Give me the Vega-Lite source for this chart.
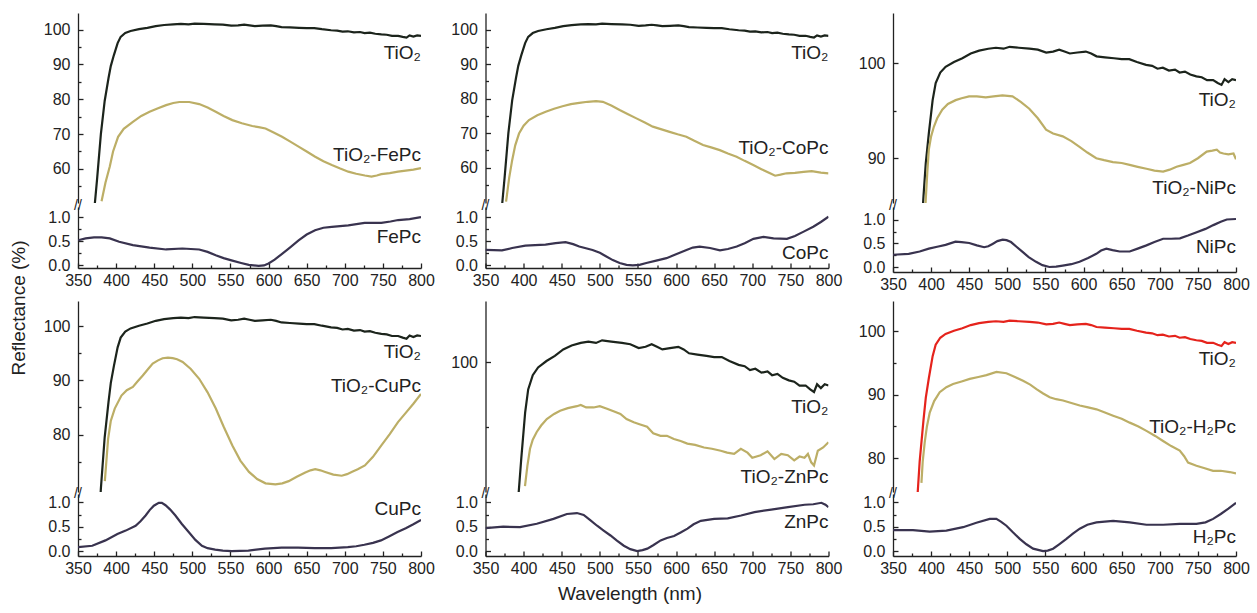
{
"$schema": "https://vega.github.io/schema/vega-lite/v6.json",
"padding": {"left": 10, "top": 13, "right": 5, "bottom": 5},
"autosize": {"type": "pad"},
"title": {"text": "Reflectance (%)", "orient": "left", "anchor": "middle", "frame": "bounds", "offset": 14, "fontSize": 19, "fontWeight": "normal", "font": "Liberation Sans", "color": "#222"},
"datasets": {
"tio2": [{"wl":370,"r":45},{"wl":375,"r":57},{"wl":380,"r":70},{"wl":385,"r":79.5},{"wl":390,"r":86},{"wl":393,"r":89.5},{"wl":397,"r":92.6},{"wl":402,"r":96.1},{"wl":406,"r":97.9},{"wl":412,"r":99},{"wl":419,"r":99.6},{"wl":430,"r":100.1},{"wl":441,"r":100.5},{"wl":452,"r":101},{"wl":463,"r":101.3},{"wl":475,"r":101.5},{"wl":485,"r":101.6},{"wl":495,"r":101.5},{"wl":503,"r":101.7},{"wl":515,"r":101.6},{"wl":529,"r":101.5},{"wl":540,"r":101.4},{"wl":551,"r":101.1},{"wl":560,"r":101.2},{"wl":568,"r":101.4},{"wl":575,"r":101.2},{"wl":582,"r":101},{"wl":592,"r":101.1},{"wl":603,"r":101.2},{"wl":610,"r":101},{"wl":617,"r":100.7},{"wl":628,"r":100.6},{"wl":640,"r":100.5},{"wl":650,"r":100.4},{"wl":660,"r":100.4},{"wl":670,"r":100.1},{"wl":682,"r":99.8},{"wl":690,"r":99.7},{"wl":697,"r":99.4},{"wl":704,"r":99.5},{"wl":712,"r":99.2},{"wl":720,"r":99.3},{"wl":726,"r":99},{"wl":733,"r":99.1},{"wl":740,"r":98.8},{"wl":748,"r":98.6},{"wl":755,"r":98.5},{"wl":762,"r":98.2},{"wl":770,"r":98.2},{"wl":776,"r":97.9},{"wl":781,"r":97.7},{"wl":785,"r":98.3},{"wl":790,"r":98},{"wl":795,"r":98.3},{"wl":800,"r":98.2}],
"fe_c": [{"wl":380.9,"r":50.7},{"wl":386,"r":56},{"wl":391.7,"r":60.7},{"wl":396,"r":65},{"wl":402.6,"r":69.2},{"wl":410,"r":71.5},{"wl":422,"r":73.5},{"wl":433,"r":75.2},{"wl":443.9,"r":76.4},{"wl":455,"r":77.4},{"wl":465.6,"r":78.3},{"wl":475,"r":78.9},{"wl":483,"r":79.2},{"wl":496,"r":79.2},{"wl":509,"r":78.6},{"wl":520,"r":77.6},{"wl":530.7,"r":76.4},{"wl":541,"r":75.2},{"wl":552.5,"r":74},{"wl":565,"r":73.1},{"wl":578.6,"r":72.3},{"wl":587,"r":72},{"wl":596,"r":71.6},{"wl":606,"r":70.5},{"wl":617.7,"r":69.2},{"wl":628,"r":67.9},{"wl":639.4,"r":66.4},{"wl":650,"r":65},{"wl":661.2,"r":63.5},{"wl":672,"r":62.2},{"wl":683,"r":61.1},{"wl":694,"r":60.1},{"wl":704.6,"r":59.2},{"wl":715,"r":58.6},{"wl":726.4,"r":58.1},{"wl":735,"r":57.8},{"wl":742,"r":58.1},{"wl":748,"r":58.5},{"wl":759,"r":58.8},{"wl":769.8,"r":59.2},{"wl":780,"r":59.5},{"wl":790,"r":59.8},{"wl":800,"r":60.2}],
"fepc": [{"wl":350,"r":0.52},{"wl":360,"r":0.56},{"wl":371,"r":0.58},{"wl":381,"r":0.58},{"wl":391.7,"r":0.56},{"wl":404,"r":0.49},{"wl":422,"r":0.42},{"wl":443.9,"r":0.37},{"wl":465.6,"r":0.33},{"wl":487,"r":0.35},{"wl":509,"r":0.33},{"wl":520,"r":0.28},{"wl":530.7,"r":0.21},{"wl":541,"r":0.15},{"wl":552.5,"r":0.1},{"wl":564,"r":0.05},{"wl":574,"r":0.01},{"wl":587,"r":-0.01},{"wl":594,"r":0},{"wl":600,"r":0.04},{"wl":608,"r":0.12},{"wl":617.7,"r":0.24},{"wl":628,"r":0.37},{"wl":639.4,"r":0.52},{"wl":650,"r":0.64},{"wl":661,"r":0.73},{"wl":672,"r":0.78},{"wl":683,"r":0.8},{"wl":704.6,"r":0.83},{"wl":726,"r":0.88},{"wl":748,"r":0.88},{"wl":760,"r":0.91},{"wl":770,"r":0.94},{"wl":785,"r":0.96},{"wl":800,"r":1}],
"co_c": [{"wl":377,"r":50.2},{"wl":381,"r":57},{"wl":385,"r":62.2},{"wl":389,"r":66.5},{"wl":394,"r":69.9},{"wl":400,"r":72.2},{"wl":407,"r":73.8},{"wl":418,"r":75.2},{"wl":429,"r":76.2},{"wl":440,"r":77.1},{"wl":451,"r":77.8},{"wl":462,"r":78.4},{"wl":473,"r":78.8},{"wl":484,"r":79.1},{"wl":495,"r":79.3},{"wl":504,"r":79.1},{"wl":515,"r":78},{"wl":526,"r":76.7},{"wl":537,"r":75.5},{"wl":548,"r":74.3},{"wl":559,"r":73.1},{"wl":569.5,"r":71.9},{"wl":580,"r":71.2},{"wl":591.5,"r":70.4},{"wl":602,"r":69.7},{"wl":613.5,"r":69},{"wl":624,"r":67.8},{"wl":635.4,"r":66.6},{"wl":646,"r":65.9},{"wl":657.4,"r":65.1},{"wl":668,"r":64.1},{"wl":679.4,"r":63.2},{"wl":690,"r":62},{"wl":701.3,"r":60.8},{"wl":712,"r":59.6},{"wl":723.3,"r":58.4},{"wl":730,"r":57.7},{"wl":737,"r":58},{"wl":745,"r":58.4},{"wl":756,"r":58.5},{"wl":767.3,"r":58.8},{"wl":778,"r":59},{"wl":790,"r":58.6},{"wl":800,"r":58.4}],
"copc": [{"wl":350,"r":0.32},{"wl":371.6,"r":0.31},{"wl":385,"r":0.36},{"wl":402.3,"r":0.41},{"wl":415,"r":0.42},{"wl":428.7,"r":0.43},{"wl":442,"r":0.46},{"wl":455,"r":0.48},{"wl":465,"r":0.44},{"wl":473,"r":0.39},{"wl":490.4,"r":0.32},{"wl":500,"r":0.26},{"wl":508,"r":0.19},{"wl":517,"r":0.11},{"wl":526,"r":0.05},{"wl":535,"r":0.01},{"wl":543.3,"r":0},{"wl":552,"r":0.01},{"wl":561,"r":0.05},{"wl":574,"r":0.1},{"wl":587.4,"r":0.15},{"wl":600,"r":0.23},{"wl":613.7,"r":0.32},{"wl":622,"r":0.37},{"wl":631,"r":0.39},{"wl":644.6,"r":0.36},{"wl":657.6,"r":0.31},{"wl":668,"r":0.34},{"wl":679.6,"r":0.39},{"wl":690,"r":0.46},{"wl":701.5,"r":0.55},{"wl":714.7,"r":0.59},{"wl":727.9,"r":0.56},{"wl":745.5,"r":0.55},{"wl":756,"r":0.61},{"wl":767.4,"r":0.7},{"wl":780,"r":0.8},{"wl":790,"r":0.9},{"wl":800,"r":1.01}],
"ni_c": [{"wl":392.7,"r":85.3},{"wl":395,"r":88.5},{"wl":397,"r":90.9},{"wl":400,"r":92.3},{"wl":403.6,"r":93.3},{"wl":408,"r":94.2},{"wl":414.6,"r":95.1},{"wl":422,"r":95.7},{"wl":432.2,"r":96.1},{"wl":440,"r":96.3},{"wl":449.8,"r":96.5},{"wl":460,"r":96.5},{"wl":471.7,"r":96.4},{"wl":482,"r":96.5},{"wl":493.6,"r":96.6},{"wl":506.8,"r":96.5},{"wl":518,"r":95.9},{"wl":528.8,"r":95.2},{"wl":540,"r":94.2},{"wl":550.8,"r":93},{"wl":560,"r":92.6},{"wl":572.7,"r":92.3},{"wl":584,"r":91.8},{"wl":594.7,"r":91.2},{"wl":605,"r":90.6},{"wl":616.7,"r":90},{"wl":627,"r":89.8},{"wl":638.5,"r":89.6},{"wl":650,"r":89.5},{"wl":660.5,"r":89.3},{"wl":671,"r":89.1},{"wl":682.5,"r":88.9},{"wl":693,"r":88.7},{"wl":704.4,"r":88.6},{"wl":713,"r":88.8},{"wl":722,"r":89.1},{"wl":731,"r":89.3},{"wl":739.6,"r":89.5},{"wl":750,"r":90},{"wl":761.6,"r":90.7},{"wl":769,"r":90.8},{"wl":774.8,"r":90.9},{"wl":779,"r":90.6},{"wl":783.5,"r":90.5},{"wl":790,"r":90.4},{"wl":796.7,"r":90.5},{"wl":800,"r":89.9}],
"nipc": [{"wl":350,"r":0.26},{"wl":370.6,"r":0.28},{"wl":385,"r":0.33},{"wl":397,"r":0.39},{"wl":408,"r":0.43},{"wl":419,"r":0.47},{"wl":432,"r":0.54},{"wl":440,"r":0.53},{"wl":450,"r":0.51},{"wl":460,"r":0.46},{"wl":469.6,"r":0.42},{"wl":475,"r":0.44},{"wl":480.6,"r":0.49},{"wl":487,"r":0.55},{"wl":493.8,"r":0.58},{"wl":499,"r":0.57},{"wl":504.8,"r":0.53},{"wl":512,"r":0.43},{"wl":520,"r":0.32},{"wl":528,"r":0.21},{"wl":537.7,"r":0.11},{"wl":546,"r":0.04},{"wl":555.2,"r":0},{"wl":564,"r":0.01},{"wl":572.7,"r":0.03},{"wl":584,"r":0.06},{"wl":594.7,"r":0.11},{"wl":606,"r":0.19},{"wl":616.7,"r":0.28},{"wl":623,"r":0.35},{"wl":629.9,"r":0.39},{"wl":638,"r":0.36},{"wl":647.4,"r":0.33},{"wl":660.5,"r":0.33},{"wl":671,"r":0.39},{"wl":682.5,"r":0.46},{"wl":693,"r":0.53},{"wl":704.4,"r":0.6},{"wl":715,"r":0.6},{"wl":726.4,"r":0.61},{"wl":737,"r":0.67},{"wl":748.4,"r":0.74},{"wl":760,"r":0.81},{"wl":770.3,"r":0.89},{"wl":780,"r":0.96},{"wl":787.9,"r":1.01},{"wl":800,"r":1.02}],
"cu_c": [{"wl":385.2,"r":71.4},{"wl":389.5,"r":79.2},{"wl":393,"r":82.5},{"wl":398.2,"r":84.8},{"wl":407,"r":87.2},{"wl":414,"r":88.2},{"wl":422,"r":88.8},{"wl":428,"r":89.8},{"wl":435,"r":90.9},{"wl":442,"r":92.1},{"wl":448,"r":93.1},{"wl":455,"r":93.7},{"wl":461,"r":94.1},{"wl":468,"r":94.2},{"wl":474.3,"r":94.1},{"wl":480,"r":93.9},{"wl":487.3,"r":93.4},{"wl":498,"r":92.1},{"wl":509,"r":90.3},{"wl":520,"r":87.8},{"wl":530.8,"r":84.8},{"wl":541,"r":81.5},{"wl":552.5,"r":78},{"wl":563,"r":75.2},{"wl":574.3,"r":73.1},{"wl":585,"r":71.8},{"wl":596,"r":71},{"wl":609,"r":70.8},{"wl":618,"r":71},{"wl":626.4,"r":71.4},{"wl":637,"r":72.2},{"wl":648.2,"r":73},{"wl":655,"r":73.4},{"wl":661.2,"r":73.6},{"wl":668,"r":73.4},{"wl":674.3,"r":73.1},{"wl":685,"r":72.6},{"wl":696,"r":72.4},{"wl":703,"r":72.7},{"wl":709,"r":73.1},{"wl":717,"r":73.6},{"wl":726.4,"r":74.3},{"wl":737,"r":75.9},{"wl":748,"r":78},{"wl":759,"r":80.1},{"wl":769.8,"r":82.3},{"wl":780,"r":84},{"wl":790,"r":85.7},{"wl":800,"r":87.5}],
"cupc": [{"wl":350,"r":0.08},{"wl":368.7,"r":0.11},{"wl":386,"r":0.22},{"wl":401.7,"r":0.35},{"wl":412.6,"r":0.42},{"wl":425.6,"r":0.52},{"wl":432,"r":0.61},{"wl":438.7,"r":0.73},{"wl":444,"r":0.84},{"wl":449.5,"r":0.93},{"wl":456,"r":0.99},{"wl":460,"r":0.99},{"wl":464.8,"r":0.94},{"wl":471,"r":0.85},{"wl":477.8,"r":0.73},{"wl":486,"r":0.56},{"wl":495.2,"r":0.39},{"wl":504,"r":0.23},{"wl":512.6,"r":0.11},{"wl":520,"r":0.06},{"wl":530,"r":0.03},{"wl":540,"r":0.01},{"wl":551.7,"r":0},{"wl":573.5,"r":0.01},{"wl":595.2,"r":0.05},{"wl":617,"r":0.07},{"wl":638.7,"r":0.07},{"wl":660.5,"r":0.06},{"wl":682.2,"r":0.06},{"wl":704,"r":0.08},{"wl":715,"r":0.1},{"wl":725.7,"r":0.13},{"wl":737,"r":0.17},{"wl":747.5,"r":0.22},{"wl":758,"r":0.3},{"wl":769.2,"r":0.39},{"wl":780,"r":0.47},{"wl":790,"r":0.55},{"wl":800,"r":0.64}],
"zn_c": [{"wl":401.8,"r":90.4},{"wl":405,"r":92},{"wl":408.4,"r":93.3},{"wl":412,"r":94},{"wl":417.2,"r":94.6},{"wl":423,"r":95.1},{"wl":430.4,"r":95.6},{"wl":440,"r":96},{"wl":447.9,"r":96.25},{"wl":458,"r":96.45},{"wl":469.9,"r":96.6},{"wl":475,"r":96.7},{"wl":482,"r":96.5},{"wl":491.8,"r":96.5},{"wl":500,"r":96.6},{"wl":509.4,"r":96.4},{"wl":518,"r":96.2},{"wl":527,"r":96},{"wl":535,"r":95.6},{"wl":544.5,"r":95.35},{"wl":552,"r":95.2},{"wl":562,"r":95},{"wl":570,"r":94.5},{"wl":579.6,"r":94.3},{"wl":588,"r":94.3},{"wl":597.2,"r":94.05},{"wl":606,"r":93.9},{"wl":614.8,"r":93.7},{"wl":625,"r":93.6},{"wl":636.7,"r":93.4},{"wl":647,"r":93.3},{"wl":658.6,"r":93.15},{"wl":667,"r":93},{"wl":676.2,"r":92.9},{"wl":685,"r":93.3},{"wl":693.7,"r":93},{"wl":700,"r":92.6},{"wl":711,"r":92.8},{"wl":720,"r":93.1},{"wl":729,"r":92.5},{"wl":738,"r":92.9},{"wl":746.6,"r":92.8},{"wl":755,"r":92.4},{"wl":762,"r":92.7},{"wl":768.5,"r":92.6},{"wl":773,"r":92.9},{"wl":777.3,"r":92.25},{"wl":781,"r":92},{"wl":786,"r":93.15},{"wl":793,"r":93.4},{"wl":800,"r":93.8}],
"znpc": [{"wl":350,"r":0.47},{"wl":373.3,"r":0.5},{"wl":395.3,"r":0.49},{"wl":417.3,"r":0.56},{"wl":439.2,"r":0.66},{"wl":456.8,"r":0.76},{"wl":470,"r":0.78},{"wl":478.8,"r":0.74},{"wl":487,"r":0.64},{"wl":496.4,"r":0.52},{"wl":505,"r":0.42},{"wl":514,"r":0.32},{"wl":522,"r":0.22},{"wl":531.5,"r":0.11},{"wl":540,"r":0.04},{"wl":549,"r":0},{"wl":556,"r":0.02},{"wl":562.3,"r":0.05},{"wl":570,"r":0.12},{"wl":579.8,"r":0.22},{"wl":588,"r":0.27},{"wl":597.4,"r":0.31},{"wl":606,"r":0.38},{"wl":615,"r":0.46},{"wl":623,"r":0.55},{"wl":632.5,"r":0.62},{"wl":650,"r":0.66},{"wl":667.8,"r":0.67},{"wl":685.3,"r":0.73},{"wl":702.9,"r":0.8},{"wl":724.8,"r":0.85},{"wl":746.8,"r":0.9},{"wl":768.7,"r":0.95},{"wl":780,"r":0.96},{"wl":790.7,"r":0.99},{"wl":796,"r":0.95},{"wl":800,"r":0.9}],
"h2_c": [{"wl":387.3,"r":76.1},{"wl":389,"r":79.5},{"wl":391.6,"r":82.5},{"wl":394.5,"r":85},{"wl":398.2,"r":87.2},{"wl":404,"r":89},{"wl":411.3,"r":90.4},{"wl":420,"r":91.2},{"wl":428.8,"r":91.7},{"wl":440,"r":92.1},{"wl":450.7,"r":92.5},{"wl":462,"r":92.8},{"wl":472.6,"r":93.1},{"wl":485.7,"r":93.6},{"wl":498.8,"r":93.4},{"wl":510,"r":92.8},{"wl":520.6,"r":92.2},{"wl":530,"r":91.6},{"wl":538.2,"r":90.9},{"wl":547,"r":90.2},{"wl":555.6,"r":89.6},{"wl":564,"r":89.3},{"wl":573.1,"r":89.1},{"wl":584,"r":88.7},{"wl":595,"r":88.3},{"wl":606,"r":88},{"wl":617,"r":87.7},{"wl":628,"r":87.2},{"wl":638.8,"r":86.7},{"wl":650,"r":86.2},{"wl":660.6,"r":85.6},{"wl":672,"r":85},{"wl":682.5,"r":84.3},{"wl":694,"r":83.5},{"wl":704.3,"r":82.7},{"wl":715,"r":81.9},{"wl":726.2,"r":81.2},{"wl":732,"r":80.3},{"wl":737.1,"r":79.3},{"wl":748.1,"r":78.8},{"wl":759,"r":78.4},{"wl":769.9,"r":78},{"wl":780,"r":78},{"wl":791.8,"r":77.8},{"wl":800,"r":77.6}],
"h2pc": [{"wl":350,"r":0.43},{"wl":376.2,"r":0.43},{"wl":398.1,"r":0.4},{"wl":420,"r":0.42},{"wl":441.9,"r":0.49},{"wl":459.4,"r":0.58},{"wl":476.9,"r":0.66},{"wl":485.6,"r":0.66},{"wl":492,"r":0.6},{"wl":498.8,"r":0.52},{"wl":507,"r":0.39},{"wl":516.3,"r":0.25},{"wl":525,"r":0.14},{"wl":533.8,"r":0.05},{"wl":546.9,"r":0},{"wl":553,"r":0.01},{"wl":560,"r":0.05},{"wl":568,"r":0.14},{"wl":577.5,"r":0.25},{"wl":586,"r":0.36},{"wl":595,"r":0.46},{"wl":605,"r":0.54},{"wl":616.9,"r":0.59},{"wl":638.8,"r":0.62},{"wl":660.6,"r":0.59},{"wl":682.5,"r":0.54},{"wl":704.4,"r":0.54},{"wl":726.3,"r":0.56},{"wl":748.1,"r":0.56},{"wl":760,"r":0.59},{"wl":770,"r":0.66},{"wl":780,"r":0.76},{"wl":790,"r":0.87},{"wl":800,"r":0.99}]
},
"vconcat": [
{
"columns": 3, "bounds": "flush", "spacing": {"row": 4, "column": 64.5},
"concat": [
{"width": 343, "height": 190,
 "encoding": {"x": {"field": "wl", "type": "quantitative", "title": null, "scale": {"domain": [350, 800], "nice": false, "zero": false}, "axis": null},
  "y": {"field": "r", "type": "quantitative", "title": null, "scale": {"domain": [50.2, 104.75], "nice": false, "zero": false}, "axis": {"values": [55,60,65,70,75,80,85,90,95,100], "labelExpr": "datum.value % 10 === 0 ? datum.label : ''", "tickSize": {"condition": {"test": "datum.value % 10 === 0", "value": -5}, "value": -3}, "labelPadding": 13}}},
 "layer": [
  {"data": {"name": "tio2"}, "mark": {"type": "line", "clip": true, "color": "#1c241c"}},
  {"data": {"name": "fe_c"}, "mark": {"type": "line", "clip": true, "color": "#bcae66"}},
  {"data": {"values": [{"wl": 800, "r": 93.3, "t": "TiO₂"}, {"wl": 800, "r": 64.0, "t": "TiO₂-FePc"}]}, "mark": {"type": "text", "align": "right", "baseline": "middle"}, "encoding": {"text": {"field": "t"}}},
  {"data": {"values": [{"wl": 350, "r": 50.2, "t": "//"}]}, "mark": {"type": "text", "align": "center", "baseline": "middle", "fontSize": 14, "dy": 3}, "encoding": {"text": {"field": "t"}}}
 ]},
{"width": 343, "height": 190,
 "encoding": {"x": {"field": "wl", "type": "quantitative", "title": null, "scale": {"domain": [350, 800], "nice": false, "zero": false}, "axis": null},
  "y": {"field": "r", "type": "quantitative", "title": null, "scale": {"domain": [49.8, 104.8], "nice": false, "zero": false}, "axis": {"values": [55,60,65,70,75,80,85,90,95,100], "labelExpr": "datum.value % 10 === 0 ? datum.label : ''", "tickSize": {"condition": {"test": "datum.value % 10 === 0", "value": -5}, "value": -3}, "labelPadding": 13}}},
 "layer": [
  {"data": {"name": "tio2"}, "mark": {"type": "line", "clip": true, "color": "#1c241c"}},
  {"data": {"name": "co_c"}, "mark": {"type": "line", "clip": true, "color": "#bcae66"}},
  {"data": {"values": [{"wl": 800, "r": 93.1, "t": "TiO₂"}, {"wl": 800, "r": 65.6, "t": "TiO₂-CoPc"}]}, "mark": {"type": "text", "align": "right", "baseline": "middle"}, "encoding": {"text": {"field": "t"}}},
  {"data": {"values": [{"wl": 350, "r": 49.8, "t": "//"}]}, "mark": {"type": "text", "align": "center", "baseline": "middle", "fontSize": 14, "dy": 3}, "encoding": {"text": {"field": "t"}}}
 ]},
{"width": 343, "height": 190,
 "encoding": {"x": {"field": "wl", "type": "quantitative", "title": null, "scale": {"domain": [350, 800], "nice": false, "zero": false}, "axis": null},
  "y": {"field": "r", "type": "quantitative", "title": null, "scale": {"domain": [85.3, 105.25], "nice": false, "zero": false}, "axis": {"values": [90,95,100], "labelExpr": "datum.value % 10 === 0 ? datum.label : ''", "tickSize": {"condition": {"test": "datum.value % 10 === 0", "value": -5}, "value": -3}, "labelPadding": 13}}},
 "layer": [
  {"data": {"name": "tio2"}, "mark": {"type": "line", "clip": true, "color": "#1c241c"}},
  {"data": {"name": "ni_c"}, "mark": {"type": "line", "clip": true, "color": "#bcae66"}},
  {"data": {"values": [{"wl": 800, "r": 96.1, "t": "TiO₂"}, {"wl": 800, "r": 86.85, "t": "TiO₂-NiPc"}]}, "mark": {"type": "text", "align": "right", "baseline": "middle"}, "encoding": {"text": {"field": "t"}}},
  {"data": {"values": [{"wl": 350, "r": 85.3, "t": "//"}]}, "mark": {"type": "text", "align": "center", "baseline": "middle", "fontSize": 14, "dy": 3}, "encoding": {"text": {"field": "t"}}}
 ]},
{"width": 343, "height": 61,
 "encoding": {"x": {"field": "wl", "type": "quantitative", "title": null, "scale": {"domain": [350, 800], "nice": false, "zero": false}, "axis": {"values": [350,375,400,425,450,475,500,525,550,575,600,625,650,675,700,725,750,775,800], "labelExpr": "datum.value % 50 === 0 ? datum.label : ''", "tickSize": {"condition": {"test": "datum.value % 50 === 0", "value": -5}, "value": -3}, "labelPadding": 9}},
  "y": {"field": "r", "type": "quantitative", "title": null, "scale": {"domain": [-0.054, 1.21], "nice": false, "zero": false}, "axis": {"values": [0,0.25,0.5,0.75,1], "format": ".1f", "labelExpr": "datum.value % 0.5 === 0 ? datum.label : ''", "tickSize": {"condition": {"test": "datum.value % 0.5 === 0", "value": -5}, "value": -3}, "labelPadding": 13}}},
 "layer": [
  {"data": {"name": "fepc"}, "mark": {"type": "line", "clip": true, "color": "#39334f"}},
  {"data": {"values": [{"wl": 800, "r": 0.59, "t": "FePc"}]}, "mark": {"type": "text", "align": "right", "baseline": "middle"}, "encoding": {"text": {"field": "t"}}}
 ]},
{"width": 343, "height": 61,
 "encoding": {"x": {"field": "wl", "type": "quantitative", "title": null, "scale": {"domain": [350, 800], "nice": false, "zero": false}, "axis": {"values": [350,375,400,425,450,475,500,525,550,575,600,625,650,675,700,725,750,775,800], "labelExpr": "datum.value % 50 === 0 ? datum.label : ''", "tickSize": {"condition": {"test": "datum.value % 50 === 0", "value": -5}, "value": -3}, "labelPadding": 9}},
  "y": {"field": "r", "type": "quantitative", "title": null, "scale": {"domain": [-0.054, 1.21], "nice": false, "zero": false}, "axis": {"values": [0,0.25,0.5,0.75,1], "format": ".1f", "labelExpr": "datum.value % 0.5 === 0 ? datum.label : ''", "tickSize": {"condition": {"test": "datum.value % 0.5 === 0", "value": -5}, "value": -3}, "labelPadding": 13}}},
 "layer": [
  {"data": {"name": "copc"}, "mark": {"type": "line", "clip": true, "color": "#39334f"}},
  {"data": {"values": [{"wl": 800, "r": 0.26, "t": "CoPc"}]}, "mark": {"type": "text", "align": "right", "baseline": "middle"}, "encoding": {"text": {"field": "t"}}}
 ]},
{"width": 343, "height": 65,
 "encoding": {"x": {"field": "wl", "type": "quantitative", "title": null, "scale": {"domain": [350, 800], "nice": false, "zero": false}, "axis": {"values": [350,375,400,425,450,475,500,525,550,575,600,625,650,675,700,725,750,775,800], "labelExpr": "datum.value % 50 === 0 ? datum.label : ''", "tickSize": {"condition": {"test": "datum.value % 50 === 0", "value": -5}, "value": -3}, "labelPadding": 9}},
  "y": {"field": "r", "type": "quantitative", "title": null, "scale": {"domain": [-0.106, 1.275], "nice": false, "zero": false}, "axis": {"values": [0,0.25,0.5,0.75,1], "format": ".1f", "labelExpr": "datum.value % 0.5 === 0 ? datum.label : ''", "tickSize": {"condition": {"test": "datum.value % 0.5 === 0", "value": -5}, "value": -3}, "labelPadding": 13}}},
 "layer": [
  {"data": {"name": "nipc"}, "mark": {"type": "line", "clip": true, "color": "#39334f"}},
  {"data": {"values": [{"wl": 800, "r": 0.42, "t": "NiPc"}]}, "mark": {"type": "text", "align": "right", "baseline": "middle"}, "encoding": {"text": {"field": "t"}}}
 ]}
]
},
{
"columns": 3, "bounds": "flush", "spacing": {"row": 2, "column": 64.5},
"concat": [
{"width": 343, "height": 191,
 "encoding": {"x": {"field": "wl", "type": "quantitative", "title": null, "scale": {"domain": [350, 800], "nice": false, "zero": false}, "axis": null},
  "y": {"field": "r", "type": "quantitative", "title": null, "scale": {"domain": [69.4, 104.66], "nice": false, "zero": false}, "axis": {"values": [75,80,85,90,95,100], "labelExpr": "datum.value % 10 === 0 ? datum.label : ''", "tickSize": {"condition": {"test": "datum.value % 10 === 0", "value": -5}, "value": -3}, "labelPadding": 13}}},
 "layer": [
  {"data": {"name": "tio2"}, "mark": {"type": "line", "clip": true, "color": "#1c241c"}},
  {"data": {"name": "cu_c"}, "mark": {"type": "line", "clip": true, "color": "#bcae66"}},
  {"data": {"values": [{"wl": 800, "r": 95.2, "t": "TiO₂"}, {"wl": 800, "r": 88.95, "t": "TiO₂-CuPc"}]}, "mark": {"type": "text", "align": "right", "baseline": "middle"}, "encoding": {"text": {"field": "t"}}},
  {"data": {"values": [{"wl": 350, "r": 69.4, "t": "//"}]}, "mark": {"type": "text", "align": "center", "baseline": "middle", "fontSize": 14, "dy": 2}, "encoding": {"text": {"field": "t"}}}
 ]},
{"width": 343, "height": 191,
 "encoding": {"x": {"field": "wl", "type": "quantitative", "title": null, "scale": {"domain": [350, 800], "nice": false, "zero": false}, "axis": null},
  "y": {"field": "r", "type": "quantitative", "title": null, "scale": {"domain": [89.95, 104.75], "nice": false, "zero": false}, "axis": {"values": [95,100], "labelExpr": "datum.value % 10 === 0 ? datum.label : ''", "tickSize": {"condition": {"test": "datum.value % 10 === 0", "value": -5}, "value": -3}, "labelPadding": 13}}},
 "layer": [
  {"data": {"name": "tio2"}, "mark": {"type": "line", "clip": true, "color": "#1c241c"}},
  {"data": {"name": "zn_c"}, "mark": {"type": "line", "clip": true, "color": "#bcae66"}},
  {"data": {"values": [{"wl": 800, "r": 96.5, "t": "TiO₂"}, {"wl": 800, "r": 91.1, "t": "TiO₂-ZnPc"}]}, "mark": {"type": "text", "align": "right", "baseline": "middle"}, "encoding": {"text": {"field": "t"}}},
  {"data": {"values": [{"wl": 350, "r": 89.95, "t": "//"}]}, "mark": {"type": "text", "align": "center", "baseline": "middle", "fontSize": 14, "dy": 2}, "encoding": {"text": {"field": "t"}}}
 ]},
{"width": 343, "height": 191,
 "encoding": {"x": {"field": "wl", "type": "quantitative", "title": null, "scale": {"domain": [350, 800], "nice": false, "zero": false}, "axis": null},
  "y": {"field": "r", "type": "quantitative", "title": null, "scale": {"domain": [74.65, 104.8], "nice": false, "zero": false}, "axis": {"values": [80,85,90,95,100], "labelExpr": "datum.value % 10 === 0 ? datum.label : ''", "tickSize": {"condition": {"test": "datum.value % 10 === 0", "value": -5}, "value": -3}, "labelPadding": 13}}},
 "layer": [
  {"data": {"name": "tio2"}, "mark": {"type": "line", "clip": true, "color": "#e5231c"}},
  {"data": {"name": "h2_c"}, "mark": {"type": "line", "clip": true, "color": "#bcae66"}},
  {"data": {"values": [{"wl": 800, "r": 95.6, "t": "TiO₂"}, {"wl": 800, "r": 84.9, "t": "TiO₂-H₂Pc"}]}, "mark": {"type": "text", "align": "right", "baseline": "middle"}, "encoding": {"text": {"field": "t"}}},
  {"data": {"values": [{"wl": 350, "r": 74.65, "t": "//"}]}, "mark": {"type": "text", "align": "center", "baseline": "middle", "fontSize": 14, "dy": 2}, "encoding": {"text": {"field": "t"}}}
 ]},
{"width": 343, "height": 62,
 "encoding": {"x": {"field": "wl", "type": "quantitative", "title": null, "scale": {"domain": [350, 800], "nice": false, "zero": false}, "axis": {"values": [350,375,400,425,450,475,500,525,550,575,600,625,650,675,700,725,750,775,800], "labelExpr": "datum.value % 50 === 0 ? datum.label : ''", "tickSize": {"condition": {"test": "datum.value % 50 === 0", "value": -5}, "value": -3}, "labelPadding": 9}},
  "y": {"field": "r", "type": "quantitative", "title": null, "scale": {"domain": [-0.1, 1.17], "nice": false, "zero": false}, "axis": {"values": [0,0.25,0.5,0.75,1], "format": ".1f", "labelExpr": "datum.value % 0.5 === 0 ? datum.label : ''", "tickSize": {"condition": {"test": "datum.value % 0.5 === 0", "value": -5}, "value": -3}, "labelPadding": 13}}},
 "layer": [
  {"data": {"name": "cupc"}, "mark": {"type": "line", "clip": true, "color": "#39334f"}},
  {"data": {"values": [{"wl": 800, "r": 0.86, "t": "CuPc"}]}, "mark": {"type": "text", "align": "right", "baseline": "middle"}, "encoding": {"text": {"field": "t"}}}
 ]},
{"width": 343, "height": 62,
 "encoding": {"x": {"field": "wl", "type": "quantitative", "title": "Wavelength (nm)", "scale": {"domain": [350, 800], "nice": false, "zero": false}, "axis": {"values": [350,375,400,425,450,475,500,525,550,575,600,625,650,675,700,725,750,775,800], "labelExpr": "datum.value % 50 === 0 ? datum.label : ''", "tickSize": {"condition": {"test": "datum.value % 50 === 0", "value": -5}, "value": -3}, "labelPadding": 9, "titleFont": "Liberation Sans", "titleFontSize": 19, "titleFontWeight": "normal", "titleColor": "#222", "titlePadding": 6, "titleX": 144, "titleAlign": "center"}},
  "y": {"field": "r", "type": "quantitative", "title": null, "scale": {"domain": [-0.1, 1.17], "nice": false, "zero": false}, "axis": {"values": [0,0.25,0.5,0.75,1], "format": ".1f", "labelExpr": "datum.value % 0.5 === 0 ? datum.label : ''", "tickSize": {"condition": {"test": "datum.value % 0.5 === 0", "value": -5}, "value": -3}, "labelPadding": 13}}},
 "layer": [
  {"data": {"name": "znpc"}, "mark": {"type": "line", "clip": true, "color": "#39334f"}},
  {"data": {"values": [{"wl": 800, "r": 0.59, "t": "ZnPc"}]}, "mark": {"type": "text", "align": "right", "baseline": "middle"}, "encoding": {"text": {"field": "t"}}}
 ]},
{"width": 343, "height": 62,
 "encoding": {"x": {"field": "wl", "type": "quantitative", "title": null, "scale": {"domain": [350, 800], "nice": false, "zero": false}, "axis": {"values": [350,375,400,425,450,475,500,525,550,575,600,625,650,675,700,725,750,775,800], "labelExpr": "datum.value % 50 === 0 ? datum.label : ''", "tickSize": {"condition": {"test": "datum.value % 50 === 0", "value": -5}, "value": -3}, "labelPadding": 9}},
  "y": {"field": "r", "type": "quantitative", "title": null, "scale": {"domain": [-0.1, 1.17], "nice": false, "zero": false}, "axis": {"values": [0,0.25,0.5,0.75,1], "format": ".1f", "labelExpr": "datum.value % 0.5 === 0 ? datum.label : ''", "tickSize": {"condition": {"test": "datum.value % 0.5 === 0", "value": -5}, "value": -3}, "labelPadding": 13}}},
 "layer": [
  {"data": {"name": "h2pc"}, "mark": {"type": "line", "clip": true, "color": "#39334f"}},
  {"data": {"values": [{"wl": 800, "r": 0.29, "t": "H₂Pc"}]}, "mark": {"type": "text", "align": "right", "baseline": "middle"}, "encoding": {"text": {"field": "t"}}}
 ]}
]
}
],
"spacing": 7,
"config": {
 "view": {"stroke": null},
 "font": "Liberation Sans",
 "axis": {"labelFont": "Liberation Sans", "labelFontSize": 16, "labelColor": "#222", "domainColor": "#222", "tickColor": "#222", "domainWidth": 1.3, "tickWidth": 1.3, "grid": false, "labelOverlap": false, "labelFlush": false},
 "line": {"strokeWidth": 2.2},
 "text": {"font": "Liberation Sans", "fontSize": 19, "fill": "#222"}
}
}
